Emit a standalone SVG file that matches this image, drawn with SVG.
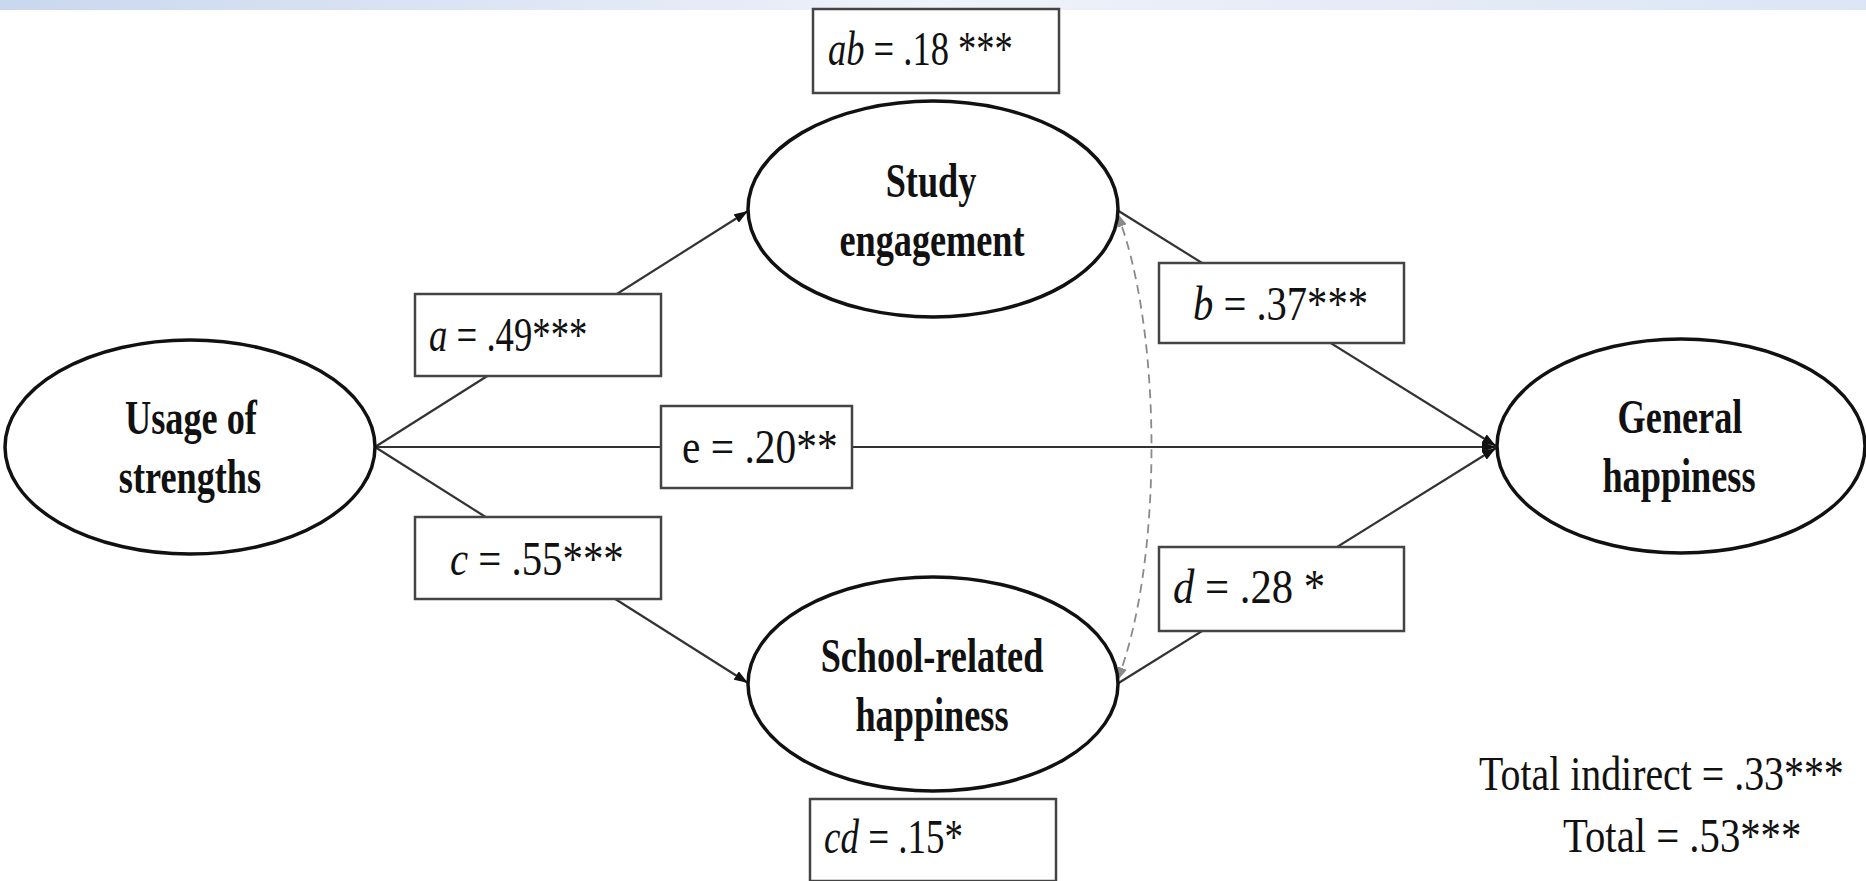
<svg xmlns="http://www.w3.org/2000/svg" width="1866" height="881" viewBox="0 0 1866 881">
<defs>
<linearGradient id="band" x1="0" y1="0" x2="1" y2="0">
<stop offset="0" stop-color="#c9d7ee"/>
<stop offset="0.5" stop-color="#eef2fa"/>
<stop offset="1" stop-color="#dbe5f4"/>
</linearGradient>
<marker id="arr" viewBox="0 0 14 10" refX="14" refY="5" markerWidth="14" markerHeight="10" orient="auto" markerUnits="userSpaceOnUse">
<path d="M0,0 L14,5 L0,10 z" fill="#111"/>
</marker>
<marker id="garr" viewBox="0 0 14 10" refX="14" refY="5" markerWidth="14" markerHeight="10" orient="auto-start-reverse" markerUnits="userSpaceOnUse">
<path d="M0,0 L14,5 L0,10 z" fill="#8a8a8a"/>
</marker>
</defs>
<style>
.node ellipse{fill:#fff;stroke:#111;stroke-width:3.5}
.nt{font-family:"Liberation Serif","Times New Roman",serif;font-weight:bold;font-size:48px;fill:#111;text-anchor:middle}
.box rect{fill:#fff;stroke:#444;stroke-width:2.5}
.lt{font-family:"Liberation Serif","Times New Roman",serif;font-size:48px;fill:#111}
.it{font-style:italic}
.conn line{stroke:#333;stroke-width:2.2;fill:none}
.dash{stroke:#8a8a8a;stroke-width:1.8;fill:none;stroke-dasharray:9 6}
</style>
<rect x="0" y="0" width="1866" height="10" fill="url(#band)"/>

<g id="connectors" class="conn">
<line x1="375" y1="447" x2="748" y2="211" marker-end="url(#arr)"/>
<line x1="375" y1="447" x2="748" y2="683" marker-end="url(#arr)"/>
<line x1="375" y1="447" x2="1496" y2="447" marker-end="url(#arr)"/>
<line x1="1117" y1="210" x2="1496" y2="446" marker-end="url(#arr)"/>
<line x1="1117" y1="684" x2="1496" y2="448" marker-end="url(#arr)"/>
<path class="dash" d="M1117,213 C1163,330 1163,565 1117,681" marker-start="url(#garr)" marker-end="url(#garr)"/>
</g>

<g id="node-usage" class="node">
<ellipse cx="190" cy="447" rx="185" ry="107"/>
<text class="nt" transform="translate(191,434) scale(0.755,1)">Usage of</text>
<text class="nt" transform="translate(190,493) scale(0.755,1)">strengths</text>
</g>
<g id="node-study" class="node">
<ellipse cx="933" cy="209" rx="185" ry="108"/>
<text class="nt" transform="translate(931,197) scale(0.755,1)">Study</text>
<text class="nt" transform="translate(932,256) scale(0.755,1)">engagement</text>
</g>
<g id="node-school" class="node">
<ellipse cx="933" cy="684" rx="185" ry="107"/>
<text class="nt" transform="translate(932,672) scale(0.755,1)">School-related</text>
<text class="nt" transform="translate(932,731) scale(0.755,1)">happiness</text>
</g>
<g id="node-general" class="node">
<ellipse cx="1681" cy="446" rx="184" ry="107"/>
<text class="nt" transform="translate(1680,433) scale(0.755,1)">General</text>
<text class="nt" transform="translate(1679,492) scale(0.755,1)">happiness</text>
</g>

<g id="label-ab" class="box">
<rect x="813" y="9" width="246" height="84"/>
<text class="lt" transform="translate(828,65) scale(0.76,1)"><tspan class="it">ab</tspan> = .18 ***</text>
</g>
<g id="label-a" class="box">
<rect x="415" y="294" width="246" height="82"/>
<text class="lt" font-size="40" transform="translate(429,351) scale(0.765,1)"><tspan class="it">a</tspan> = .49***</text>
</g>
<g id="label-e" class="box">
<rect x="661" y="406" width="191" height="82"/>
<text class="lt" transform="translate(682,463) scale(0.863,1)">e = .20**</text>
</g>
<g id="label-b" class="box">
<rect x="1159" y="263" width="245" height="80"/>
<text class="lt" transform="translate(1193,320) scale(0.845,1)"><tspan class="it">b</tspan> = .37***</text>
</g>
<g id="label-c" class="box">
<rect x="415" y="517" width="246" height="82"/>
<text class="lt" transform="translate(450,575) scale(0.85,1)"><tspan class="it">c</tspan> = .55***</text>
</g>
<g id="label-d" class="box">
<rect x="1159" y="547" width="245" height="84"/>
<text class="lt" transform="translate(1173,603) scale(0.89,1)"><tspan class="it">d</tspan> = .28 *</text>
</g>
<g id="label-cd" class="box">
<rect x="810" y="799" width="246" height="82"/>
<text class="lt" transform="translate(824,853) scale(0.77,1)"><tspan class="it">cd</tspan> = .15*</text>
</g>

<g id="totals">
<text class="lt" font-size="50" transform="translate(1479,790) scale(0.83,1)">Total indirect = .33***</text>
<text class="lt" font-size="50" transform="translate(1563,852) scale(0.848,1)">Total = .53***</text>
</g>
</svg>
